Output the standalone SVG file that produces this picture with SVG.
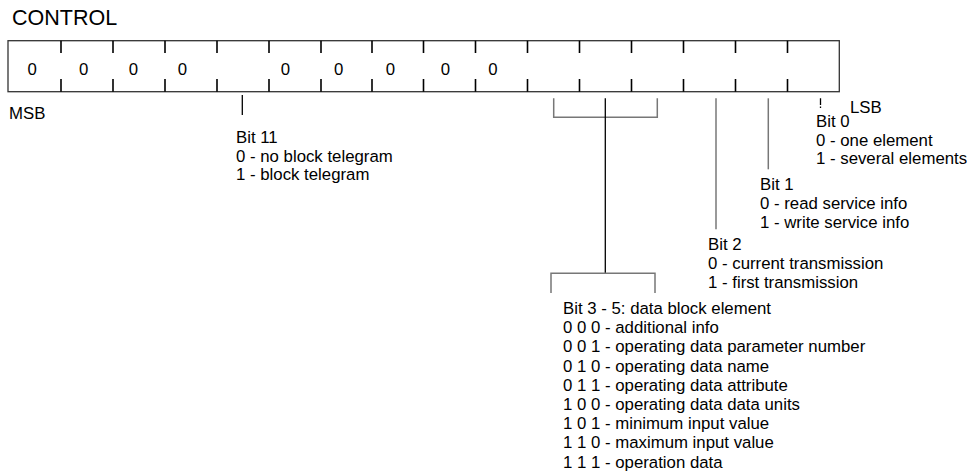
<svg xmlns="http://www.w3.org/2000/svg" width="967" height="476" viewBox="0 0 967 476">
<style>
text{font-family:"Liberation Sans",Arial,sans-serif;fill:#000}
.t{font-size:16.8px}
.z{font-size:16.8px;text-anchor:middle}
.box{fill:none;stroke:#333;stroke-width:1.3}
.tick{stroke:#000;stroke-width:1.6}
.g{stroke:#777;stroke-width:1.5;fill:none}
.k{stroke:#000;stroke-width:1.3;fill:none}
</style>
<rect width="967" height="476" fill="#fff"/>
<g id="title"><text x="12" y="25" style="font-size:21.5px">CONTROL</text></g>
<g id="register">
<rect class="box" x="8" y="40.7" width="831.3" height="51"/>
<path class="tick" d="M61 40.7V53M113 40.7V53M165 40.7V53M217 40.7V53M269 40.7V53M321 40.7V53M372 40.7V53M423.5 40.7V53M475.5 40.7V53M527.5 40.7V53M579.5 40.7V53M631.5 40.7V53M683.5 40.7V53M735.5 40.7V53M787.5 40.7V53"/>
<path class="tick" d="M61 79V91.7M113 79V91.7M165 79V91.7M217 79V91.7M269 79V91.7M321 79V91.7M372 79V91.7M423.5 79V91.7M475.5 79V91.7M527.5 79V91.7M579.5 79V91.7M631.5 79V91.7M683.5 79V91.7M735.5 79V91.7M787.5 79V91.7"/>
<text class="z" x="32.2" y="75.3">0</text>
<text class="z" x="83.7" y="75.3">0</text>
<text class="z" x="133.3" y="75.3">0</text>
<text class="z" x="182.5" y="75.3">0</text>
<text class="z" x="285.5" y="75.3">0</text>
<text class="z" x="338.7" y="75.3">0</text>
<text class="z" x="390.3" y="75.3">0</text>
<text class="z" x="445.3" y="75.3">0</text>
<text class="z" x="493" y="75.3">0</text>
</g>
<g id="msb"><text class="t" x="9" y="119">MSB</text></g>
<g id="lsb"><text class="t" x="850" y="112.5">LSB</text></g>
<g id="connectors">
<path class="k" d="M242.3 95V115"/>
<path class="g" d="M553.7 98.3V117.3H657.3V98.3"/>
<path class="k" d="M605.3 98.3V273.3"/>
<path class="g" d="M551 293V273.3H655V293"/>
<path class="g" d="M716 98.3V229.3"/>
<path class="g" d="M768.3 98.3V169.3"/>
<path class="k" d="M820.5 98.3V105M820.5 106.5V108"/>
</g>
<g id="bit11">
<text class="t" x="236" y="143">Bit 11</text>
<text class="t" x="236" y="161.5">0 - no block telegram</text>
<text class="t" x="236" y="180">1 - block telegram</text>
</g>
<g id="bit0">
<text class="t" x="816" y="127">Bit 0</text>
<text class="t" x="816" y="145.5">0 - one element</text>
<text class="t" x="816" y="164">1 - several elements</text>
</g>
<g id="bit1">
<text class="t" x="760" y="190">Bit 1</text>
<text class="t" x="760" y="209">0 - read service info</text>
<text class="t" x="760" y="228">1 - write service info</text>
</g>
<g id="bit2">
<text class="t" x="708" y="249.5">Bit 2</text>
<text class="t" x="708" y="268.5">0 - current transmission</text>
<text class="t" x="708" y="287.5">1 - first transmission</text>
</g>
<g id="bit3-5">
<text class="t" x="563" y="314">Bit 3 - 5: data block element</text>
<text class="t" x="563" y="333.2">0 0 0 - additional info</text>
<text class="t" x="563" y="352.4">0 0 1 - operating data parameter number</text>
<text class="t" x="563" y="371.6">0 1 0 - operating data name</text>
<text class="t" x="563" y="390.8">0 1 1 - operating data attribute</text>
<text class="t" x="563" y="410">1 0 0 - operating data data units</text>
<text class="t" x="563" y="429.2">1 0 1 - minimum input value</text>
<text class="t" x="563" y="448.4">1 1 0 - maximum input value</text>
<text class="t" x="563" y="467.6">1 1 1 - operation data</text>
</g>
</svg>
